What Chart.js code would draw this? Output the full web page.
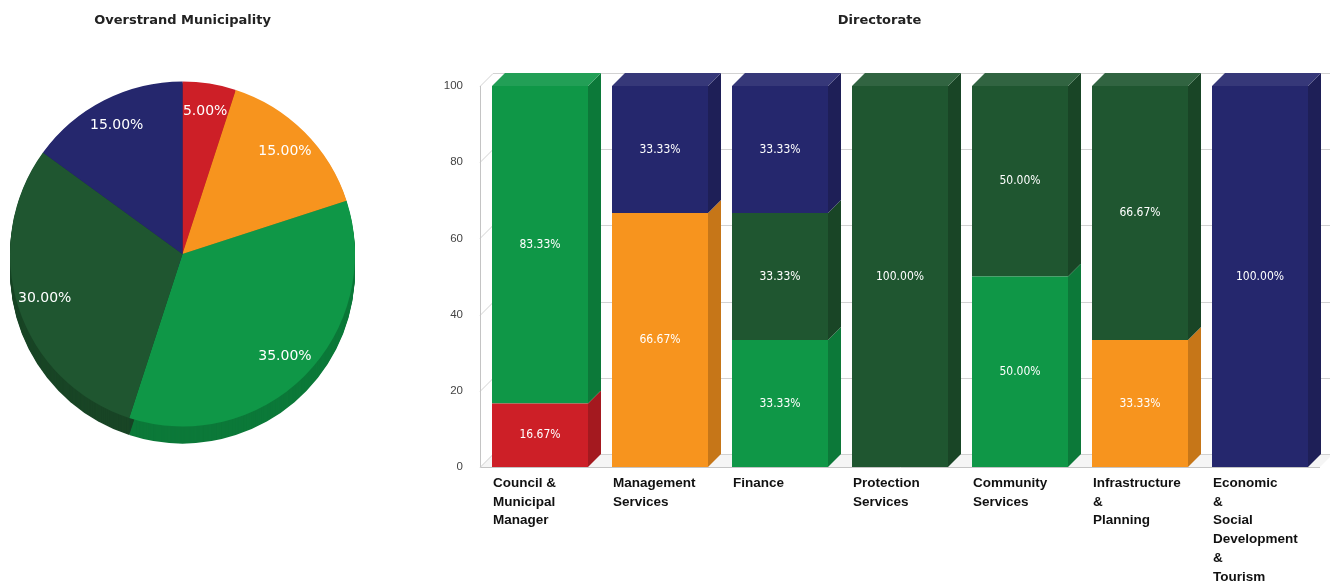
<!DOCTYPE html>
<html><head><meta charset="utf-8">
<script src="https://cdn.jsdelivr.net/npm/chart.js@4.4.1/dist/chart.umd.min.js"></script>
<style>
html,body{margin:0;padding:0;background:#fff;width:1330px;height:583px;overflow:hidden}
#pieWrap{position:absolute;left:0;top:0;width:365px;height:583px}
#barWrap{position:absolute;left:400px;top:0;width:930px;height:583px}
</style></head><body>
<div id="pieWrap"><canvas id="pie"></canvas></div>
<div id="barWrap"><canvas id="bar"></canvas></div>
<script>
// ---- data ----
const seriesNames = ["KPI Not Met", "KPI Almost Met", "KPI Met", "KPI Well Met", "KPI Extremely Well Met"];
const seriesColors = ["#cd1f27", "#f7941e", "#0f9747", "#1f5630", "#25276d"];
const pieValues = [5.00, 15.00, 35.00, 30.00, 15.00];
const categories = [
  ["Council &", "Municipal", "Manager"],
  ["Management", "Services"],
  ["Finance"],
  ["Protection", "Services"],
  ["Community", "Services"],
  ["Infrastructure", "&", "Planning"],
  ["Economic", "&", "Social", "Development", "&", "Tourism"]
];
const notMet       = [16.67, null, null, null, null, null, null];
const almostMet    = [null, 66.67, null, null, null, 33.33, null];
const met          = [83.33, null, 33.33, null, 50.00, null, null];
const wellMet      = [null, null, 33.33, 100.00, 50.00, 66.67, null];
const extremelyMet = [null, 33.33, 33.33, null, null, null, 100.00];
const yTicks = [0, 20, 40, 60, 80, 100];

// ---- helpers ----
function shade(hex, f) {
  const n = parseInt(hex.slice(1), 16);
  let r = (n >> 16) & 255, g = (n >> 8) & 255, b = n & 255;
  if (f < 1) { r *= f; g *= f; b *= f; }
  else { const t = f - 1; r += (255 - r) * t; g += (255 - g) * t; b += (255 - b) * t; }
  return `rgb(${Math.round(r)},${Math.round(g)},${Math.round(b)})`;
}

// ---- pie ----
const PIE_DEPTH = 17;
const pieDepth = {
  id: 'pieDepth',
  beforeDatasetsDraw(chart) {
    const ctx = chart.ctx;
    const meta = chart.getDatasetMeta(0);
    ctx.save();
    meta.data.forEach((arc, i) => {
      ctx.fillStyle = shade(seriesColors[i], 0.8);
      for (let d = PIE_DEPTH; d >= 1; d--) {
        ctx.beginPath();
        ctx.moveTo(arc.x, arc.y + d);
        ctx.arc(arc.x, arc.y + d, arc.outerRadius, arc.startAngle, arc.endAngle);
        ctx.closePath();
        ctx.fill();
      }
    });
    ctx.restore();
  },
  afterDatasetsDraw(chart) {
    const ctx = chart.ctx;
    const meta = chart.getDatasetMeta(0);
    ctx.save();
    ctx.font = '14px "DejaVu Sans"';
    ctx.fillStyle = '#ffffff';
    ctx.textAlign = 'center';
    ctx.textBaseline = 'middle';
    meta.data.forEach((arc, i) => {
      const mid = (arc.startAngle + arc.endAngle) / 2;
      const r = arc.outerRadius * 0.84;
      ctx.fillText(pieValues[i].toFixed(2) + '%', arc.x + Math.cos(mid) * r, arc.y + Math.sin(mid) * r);
    });
    ctx.restore();
  }
};

new Chart(document.getElementById('pie'), {
  type: 'pie',
  data: {
    labels: seriesNames,
    datasets: [{ data: pieValues, backgroundColor: seriesColors, borderWidth: 0, hoverOffset: 0, clip: false }]
  },
  options: {
    responsive: true, maintainAspectRatio: false, animation: false,
    layout: { padding: { left: 10, right: 10, top: 0, bottom: 148 } },
    plugins: {
      legend: { display: false },
      tooltip: { enabled: true },
      title: {
        display: true, text: 'Overstrand Municipality', color: '#222',
        font: { family: '"DejaVu Sans"', size: 13, weight: 'bold' },
        padding: { top: 13, bottom: 44.4 }
      }
    }
  },
  plugins: [pieDepth]
});

// ---- bar ----
const D = 13;
const bar3d = {
  id: 'bar3d',
  beforeDatasetsDraw(chart) {
    const { ctx, chartArea: { left, right, bottom }, scales: { y } } = chart;
    ctx.save();
    ctx.fillStyle = '#f5f5f5';
    ctx.beginPath();
    ctx.moveTo(left, bottom); ctx.lineTo(right, bottom);
    ctx.lineTo(right + D, bottom - D); ctx.lineTo(left + D, bottom - D);
    ctx.closePath(); ctx.fill();
    ctx.strokeStyle = '#d2d2d2'; ctx.lineWidth = 1;
    yTicks.forEach(v => {
      const py = Math.round(y.getPixelForValue(v)) + 0.5;
      ctx.beginPath();
      ctx.moveTo(left, py); ctx.lineTo(left + D, py - D); ctx.lineTo(right + D, py - D);
      ctx.stroke();
    });
    ctx.strokeStyle = '#c4c4c4';
    ctx.beginPath();
    ctx.moveTo(left + 0.5, y.getPixelForValue(100)); ctx.lineTo(left + 0.5, bottom + 0.5); ctx.lineTo(right, bottom + 0.5);
    ctx.stroke();
    ctx.restore();
  },
  afterDatasetsDraw(chart) {
    const ctx = chart.ctx;
    const ds = chart.data.datasets;
    const n = chart.data.labels.length;
    ctx.save();
    // side faces
    ds.forEach((d, di) => {
      const meta = chart.getDatasetMeta(di);
      meta.data.forEach((el, i) => {
        if (d.data[i] == null) return;
        const r = el.x + el.width / 2;
        ctx.fillStyle = shade(d.backgroundColor, 0.8);
        ctx.beginPath();
        ctx.moveTo(r, el.y); ctx.lineTo(r + D, el.y - D); ctx.lineTo(r + D, el.base - D); ctx.lineTo(r, el.base);
        ctx.closePath(); ctx.fill();
      });
    });
    // top faces
    for (let i = 0; i < n; i++) {
      let top = -1;
      ds.forEach((d, di) => { if (d.data[i] != null) top = di; });
      if (top < 0) continue;
      const el = chart.getDatasetMeta(top).data[i];
      const l = el.x - el.width / 2, r = el.x + el.width / 2;
      ctx.fillStyle = shade(ds[top].backgroundColor, 1.08);
      ctx.beginPath();
      ctx.moveTo(l, el.y); ctx.lineTo(l + D, el.y - D); ctx.lineTo(r + D, el.y - D); ctx.lineTo(r, el.y);
      ctx.closePath(); ctx.fill();
    }
    // value labels
    ctx.font = '12px "DejaVu Sans Condensed"';
    ctx.fillStyle = '#ffffff';
    ctx.textAlign = 'center';
    ctx.textBaseline = 'middle';
    ds.forEach((d, di) => {
      chart.getDatasetMeta(di).data.forEach((el, i) => {
        if (d.data[i] == null) return;
        ctx.fillText(d.data[i].toFixed(2) + '%', el.x, (el.y + el.base) / 2);
      });
    });
    ctx.restore();
  },
  afterDraw(chart) {
    const ctx = chart.ctx;
    const meta = chart.getDatasetMeta(0);
    ctx.save();
    ctx.font = 'bold 13.5px "Liberation Sans"';
    ctx.fillStyle = '#111';
    ctx.textAlign = 'left';
    ctx.textBaseline = 'alphabetic';
    categories.forEach((lines, i) => {
      const el = meta.data[i];
      const x = el.x - el.width / 2 + 1;
      lines.forEach((t, k) => ctx.fillText(t, x, 487 + k * 18.7));
    });
    ctx.restore();
  }
};

const barData = [notMet, almostMet, met, wellMet, extremelyMet];
new Chart(document.getElementById('bar'), {
  type: 'bar',
  data: {
    labels: categories.map(c => c.join(' ')),
    datasets: barData.map((arr, i) => ({
      label: seriesNames[i], data: arr, backgroundColor: seriesColors[i], borderWidth: 0,
      barPercentage: 0.8, categoryPercentage: 1.0
    }))
  },
  options: {
    responsive: true, maintainAspectRatio: false, animation: false,
    layout: { padding: { left: 39, right: 10, top: 0, bottom: 116 } },
    scales: {
      x: { stacked: true, display: false },
      y: {
        stacked: true, min: 0, max: 100,
        ticks: { stepSize: 20, padding: 17, color: '#444', font: { family: '"Liberation Sans"', size: 11.5 } },
        grid: { display: false, drawTicks: false },
        border: { display: false },
        afterFit(s) { s.width = 41; }
      }
    },
    plugins: {
      legend: { display: false },
      title: {
        display: true, text: 'Directorate', color: '#222',
        font: { family: '"DejaVu Sans"', size: 13, weight: 'bold' },
        padding: { top: 13, bottom: 57.4 }
      }
    }
  },
  plugins: [bar3d]
});
</script>
</body></html>
